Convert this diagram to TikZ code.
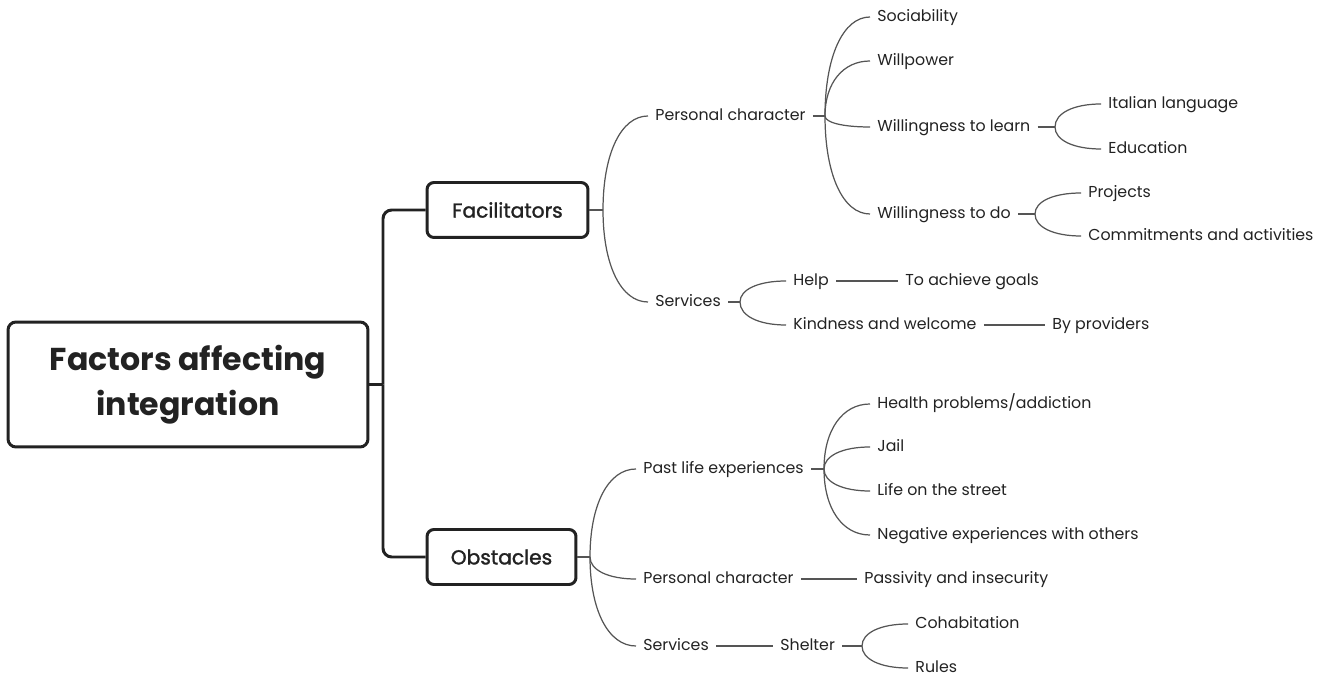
\documentclass[tikz,border=0pt]{standalone}
\usepackage{fontspec}
\setmainfont{Poppins}
\newfontfamily\boxfont{Poppins}[FakeBold=1.5]
\usepackage{tikz}
\usetikzlibrary{calc}

\definecolor{ink}{HTML}{222222}
\definecolor{twiggray}{HTML}{555555}

\tikzset{
  lbl/.style={anchor=west,inner xsep=4pt,inner ysep=0pt,text height=7pt,text depth=2pt,
    text=ink,font=\fontsize{9}{11}\selectfont},
  rootbox/.style={draw=ink,line width=1.7pt,rounded corners=4.5pt,align=center,text=ink,
    minimum width=7.2cm,minimum height=2.5cm,font=\fontsize{18}{25.5}\selectfont\bfseries},
  mainbox/.style={draw=ink,line width=1.7pt,rounded corners=4pt,text=ink,
    minimum height=1.1cm,font=\fontsize{11.5}{13}\selectfont\boxfont},
  trunk/.style={draw=ink,line width=1.7pt,rounded corners=5pt},
  twig/.style={draw=twiggray,line width=0.7pt}
}

\begin{document}
\begin{tikzpicture}[x=0.02cm,y=-0.02cm]
  \useasboundingbox (0,0) rectangle (1325,678);

  % root and the two main boxes
  \node[rootbox] (root) at (188,384.5) {Factors affecting\\integration};
  \node[mainbox,minimum width=3.22cm] (fac) at (507.5,210) {Facilitators};
  \node[mainbox,minimum width=2.98cm] (obs) at (501.5,557) {Obstacles};
  \coordinate (trk) at (383,384.5);
  \draw[trunk] (root.east) -- (trk);
  \draw[trunk] (trk) |- (fac.west);
  \draw[trunk] (trk) |- (obs.west);

  % forks
  \coordinate (ffac) at (603,210);
  \coordinate (fobs) at (590,557);
  \coordinate (fpc) at (825,116);
  \coordinate (fwl) at (1055,127);
  \coordinate (fwd) at (1035,214);
  \coordinate (fsv) at (740,302);
  \coordinate (fpast) at (824,469);
  \coordinate (fshel) at (862,646);

  % facilitators side
  \node[lbl] (pcF) at (648,116) {Personal character};
  \node[lbl] (svF) at (648,302) {Services};
  \node[lbl] (soc) at (870,17) {Sociability};
  \node[lbl] (will) at (870,61) {Willpower};
  \node[lbl] (wlearn) at (870,127) {Willingness to learn};
  \node[lbl] (wdo) at (870,214) {Willingness to do};
  \node[lbl] (ital) at (1101,104) {Italian language};
  \node[lbl] (edu) at (1101,149) {Education};
  \node[lbl] (proj) at (1081,193) {Projects};
  \node[lbl] (comm) at (1081,236) {Commitments and activities};
  \node[lbl] (help) at (786,281) {Help};
  \node[lbl] (kind) at (786,325) {Kindness and welcome};
  \node[lbl] (goals) at (898,281) {To achieve goals};
  \node[lbl] (prov) at (1045,325) {By providers};

  % obstacles side
  \node[lbl] (past) at (636,469) {Past life experiences};
  \node[lbl] (pcO) at (636,579) {Personal character};
  \node[lbl] (svO) at (636,646) {Services};
  \node[lbl] (health) at (870,404) {Health problems/addiction};
  \node[lbl] (jail) at (870,447) {Jail};
  \node[lbl] (street) at (870,491) {Life on the street};
  \node[lbl] (neg) at (870,535) {Negative experiences with others};
  \node[lbl] (pass) at (857,579) {Passivity and insecurity};
  \node[lbl] (shel) at (773,646) {Shelter};
  \node[lbl] (cohab) at (908,624) {Cohabitation};
  \node[lbl] (rules) at (908,668) {Rules};

  % stubs
  \draw[twig] (fac.east) -- (ffac);
  \draw[twig] (obs.east) -- (fobs);
  \draw[twig] (pcF.east) -- (fpc);
  \draw[twig] (wlearn.east) -- (fwl);
  \draw[twig] (wdo.east) -- (fwd);
  \draw[twig] (svF.east) -- (fsv);
  \draw[twig] (past.east) -- (fpast);
  \draw[twig] (shel.east) -- (fshel);

  % curved branches
  \foreach \f/\c in {ffac/pcF,ffac/svF,fpc/soc,fpc/will,fpc/wlearn,fpc/wdo,
      fwl/ital,fwl/edu,fwd/proj,fwd/comm,fsv/help,fsv/kind,
      fobs/past,fobs/pcO,fobs/svO,fpast/health,fpast/jail,fpast/street,fpast/neg,
      fshel/cohab,fshel/rules}
    \draw[twig] (\f) .. controls ($(\f)!0.6!(\f |- \c.west)$)
      and ($(\c.west)!0.6!(\f |- \c.west)$) .. (\c.west);

  % straight links
  \draw[twig] (help.east) -- (goals.west);
  \draw[twig] (kind.east) -- (prov.west);
  \draw[twig] (pcO.east) -- (pass.west);
  \draw[twig] (svO.east) -- (shel.west);
\end{tikzpicture}
\end{document}
